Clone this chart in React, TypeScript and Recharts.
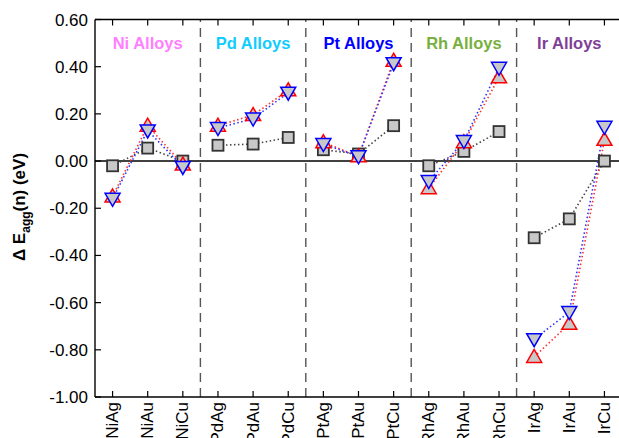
import React from "react";
import {
  LineChart,
  Line,
  XAxis,
  YAxis,
  ReferenceLine,
  ReferenceDot,
} from "recharts";

const categories = [
  "NiAg", "NiAu", "NiCu",
  "PdAg", "PdAu", "PdCu",
  "PtAg", "PtAu", "PtCu",
  "RhAg", "RhAu", "RhCu",
  "IrAg", "IrAu", "IrCu",
];

const groupNames = ["Ni Alloys", "Pd Alloys", "Pt Alloys", "Rh Alloys", "Ir Alloys"];
const groupColors = ["#ff80ff", "#10ccff", "#0000ff", "#78b040", "#7f3f98"];

// gray squares
const squareVals = [-0.02, 0.055, 0.0, 0.067, 0.072, 0.1, 0.048, 0.03, 0.15, -0.02, 0.041, 0.125, -0.325, -0.245, 0.0];
// red up triangles
const upVals = [-0.15, 0.15, -0.015, 0.15, 0.195, 0.3, 0.08, 0.02, 0.425, -0.115, 0.08, 0.355, -0.83, -0.69, 0.09];
// blue down triangles
const downVals = [-0.16, 0.13, -0.025, 0.14, 0.18, 0.29, 0.072, 0.02, 0.415, -0.085, 0.085, 0.395, -0.755, -0.64, 0.145];

const yTicks = [0.6, 0.4, 0.2, 0, -0.2, -0.4, -0.6, -0.8, -1.0];
const dividers = [2.5, 5.5, 8.5, 11.5];

const FONT = "'Liberation Sans', Arial, Helvetica, sans-serif";
const MARK_FILL = "#c8c8c8";

const data = categories.map((name, i) => {
  const g = Math.floor(i / 3);
  const row: Record<string, any> = { x: i, name };
  row[`sq${g}`] = squareVals[i];
  row[`up${g}`] = upVals[i];
  row[`dn${g}`] = downVals[i];
  return row;
});

function makeDot(kind: "sq" | "up" | "dn") {
  return (props: any) => {
    const { cx, cy, value, index } = props;
    const k = `${kind}-${index}`;
    if (value == null || cx == null || cy == null || isNaN(cy)) return <g key={k} />;
    if (kind === "sq") {
      return (
        <rect key={k} x={cx - 5.5} y={cy - 5.5} width={11} height={11}
          fill={MARK_FILL} stroke="#333" strokeWidth={1.8} />
      );
    }
    if (kind === "up") {
      const pts = `${cx},${cy - 7.5} ${cx - 7.5},${cy + 5.5} ${cx + 7.5},${cy + 5.5}`;
      return <polygon key={k} points={pts} fill={MARK_FILL} stroke="#ff0000" strokeWidth={1.5} />;
    }
    const pts = `${cx - 7.5},${cy - 5.5} ${cx + 7.5},${cy - 5.5} ${cx},${cy + 7.5}`;
    return <polygon key={k} points={pts} fill={MARK_FILL} stroke="#0000ff" strokeWidth={1.5} />;
  };
}

function XTick({ x, y, payload }: any) {
  return (
    <text x={x} y={y} transform={`rotate(-90, ${x}, ${y})`} textAnchor="end"
      dominantBaseline="central" fontSize={17} fill="#000" fontFamily={FONT}>
      {categories[payload.value]}
    </text>
  );
}

function YLabel() {
  const x = 25;
  const y = 207;
  return (
    <text x={x} y={y} transform={`rotate(-90, ${x}, ${y})`} textAnchor="middle"
      fontSize={17} fontWeight="bold" fill="#000" fontFamily={FONT}>
      <tspan>{"\u0394 E"}</tspan>
      <tspan fontSize={12} dy={5}>agg</tspan>
      <tspan dy={-5}>(n) (eV)</tspan>
    </text>
  );
}

const lineStyle = { strokeWidth: 1.6, strokeDasharray: "1.5 2.5" };

export default function App() {
  const groups = [0, 1, 2, 3, 4];
  return (
    <div style={{ position: "absolute", left: 0, top: 0, width: 619, height: 438, overflow: "hidden", background: "#fff", fontFamily: FONT }}>
      <LineChart width={640} height={438} data={data}
        margin={{ top: 0, right: 18, bottom: 0, left: 0 }}>
        <XAxis xAxisId="bottom" type="number" dataKey="x" domain={[-0.5, 14.5]}
          ticks={categories.map((_, i) => i)} interval={0}
          height={41} tickSize={-6} tickMargin={11}
          axisLine={{ stroke: "#000", strokeWidth: 1.4 }}
          tickLine={{ stroke: "#000", strokeWidth: 1.2 }}
          tick={<XTick />} />
        <XAxis xAxisId="top" orientation="top" type="number" dataKey="x" domain={[-0.5, 14.5]}
          ticks={categories.map((_, i) => i)} interval={0}
          height={19.5} tickSize={-6} tickMargin={0} tickFormatter={() => ""}
          axisLine={{ stroke: "#000", strokeWidth: 1.4 }}
          tickLine={{ stroke: "#000", strokeWidth: 1.2 }} />
        <YAxis type="number" domain={[-1, 0.6]} ticks={yTicks} interval={0}
          width={95} tickSize={-6} tickMargin={13}
          axisLine={{ stroke: "#000", strokeWidth: 1.4 }}
          tickLine={{ stroke: "#000", strokeWidth: 1.2 }}
          tick={{ fontSize: 17, fill: "#000", fontFamily: FONT }}
          tickFormatter={(v: number) => v.toFixed(2)}
          label={<YLabel />} />

        <ReferenceLine xAxisId="bottom" y={0} stroke="#000" strokeWidth={1.5} />
        {dividers.map((d) => (
          <ReferenceLine key={d} xAxisId="bottom" x={d} stroke="#555" strokeWidth={1.4} strokeDasharray="9 6" />
        ))}
        {groups.map((g) => (
          <ReferenceDot key={`lbl${g}`} xAxisId="bottom" x={g * 3 + 1} y={0.5} r={0}
            fill="none" stroke="none"
            label={{ value: groupNames[g], position: "center", fill: groupColors[g], fontSize: 16.5, fontWeight: "bold", fontFamily: FONT }} />
        ))}

        {groups.map((g) => (
          <Line key={`sq${g}`} xAxisId="bottom" dataKey={`sq${g}`} stroke="#444" {...lineStyle}
            dot={makeDot("sq")} activeDot={false} isAnimationActive={false} connectNulls={false} />
        ))}
        {groups.map((g) => (
          <Line key={`up${g}`} xAxisId="bottom" dataKey={`up${g}`} stroke="#ff3030" {...lineStyle}
            dot={makeDot("up")} activeDot={false} isAnimationActive={false} connectNulls={false} />
        ))}
        {groups.map((g) => (
          <Line key={`dn${g}`} xAxisId="bottom" dataKey={`dn${g}`} stroke="#3030ff" {...lineStyle}
            dot={makeDot("dn")} activeDot={false} isAnimationActive={false} connectNulls={false} />
        ))}
      </LineChart>
    </div>
  );
}
